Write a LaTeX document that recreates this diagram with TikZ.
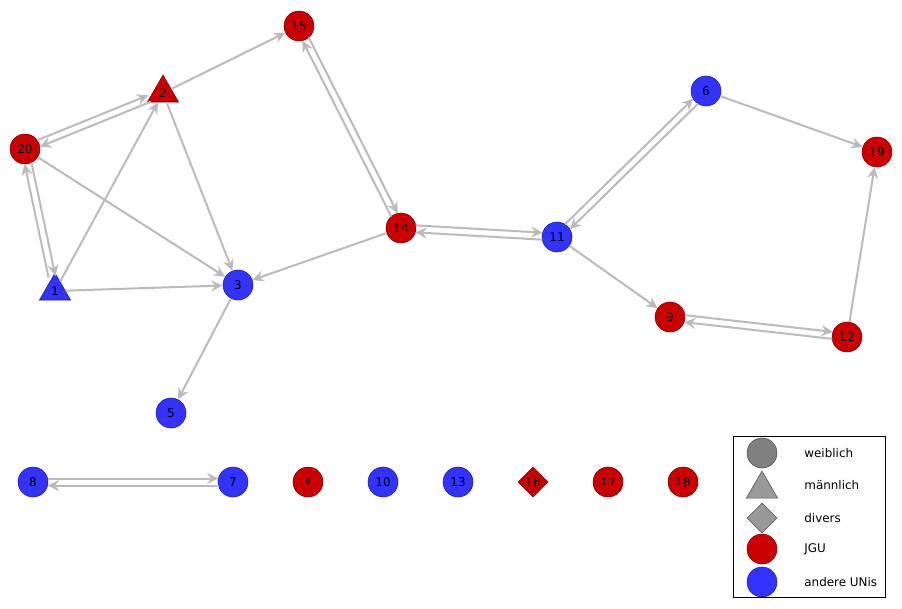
\documentclass[tikz,border=0pt]{standalone}
\usepackage{fontspec}
\setmainfont{DejaVu Sans}
\usetikzlibrary{arrows.meta, positioning, calc, shapes.geometric}
\definecolor{jgured}{HTML}{CC0000}
\definecolor{uniblue}{HTML}{3333FF}
\definecolor{linkgray}{HTML}{BBBBBB}
\begin{document}
\begin{tikzpicture}[x=0.2mm,y=-0.2mm,on grid,node distance=15mm,
      >={Stealth[length=2.3mm,width=2.2mm,inset=0.8mm]},
      every node/.style={font=\fontsize{6.8}{8}\selectfont},
      person/.style={draw,inner sep=0pt,line width=0.3pt},
      fem/.style={person,circle,minimum size=6mm},
      male/.style={person,regular polygon,regular polygon sides=3,minimum size=7.2mm},
      div/.style={person,diamond,minimum width=6mm,minimum height=6mm},
      jgu/.style={fill=jgured,draw=jgured!55!black},
      uni/.style={fill=uniblue,draw=uniblue!55!black},
      link/.style={draw=linkgray,line width=0.4mm},
      keytext/.style={anchor=west,inner sep=0pt},
      twin/.style={to path={($(\tikztostart)!0.7mm!90:(\tikztotarget)$) -- ($(\tikztotarget)!0.7mm!-90:(\tikztostart)$)},
        shorten <=2.9mm,shorten >=2.9mm}]
  \useasboundingbox[fill=white] (0,0) rectangle (902,608);
  % network
  \node[fem,jgu]  (15) at (299,26)  {15};
  \node[male,jgu] (2)  at (163,93)  {2};
  \node[fem,jgu]  (20) at (25,149)  {20};
  \node[male,uni] (1)  at (55,291)  {1};
  \node[fem,uni]  (3)  at (238,285) {3};
  \node[fem,uni]  (5)  at (171,413) {5};
  \node[fem,jgu]  (14) at (401,228) {14};
  \node[fem,uni]  (11) at (557,237) {11};
  \node[fem,uni]  (6)  at (706,91)  {6};
  \node[fem,jgu]  (19) at (877,152) {19};
  \node[fem,jgu]  (9)  at (670,317) {9};
  \node[fem,jgu]  (12) at (847,337) {12};
  % bottom row
  \node[fem,uni]  (8)  at (33,482)  {8};
  \node[fem,uni]  (7)  at (233,482) {7};
  \node[fem,jgu]  (4)  [right=of 7]  {4};
  \node[fem,uni]  (10) [right=of 4]  {10};
  \node[fem,uni]  (13) [right=of 10] {13};
  \node[div,jgu]  (16) [right=of 13] {16};
  \node[fem,jgu]  (17) [right=of 16] {17};
  \node[fem,jgu]  (18) [right=of 17] {18};
  \path[->,link]
    (1) edge (2)
    (1) edge (3)
    (20) edge (3)
    (2) edge (3)
    (2) edge (15)
    (14) edge (3)
    (3) edge (5)
    (11) edge (9)
    (6) edge (19)
    (12) edge (19);
  \path[->,link]
    (20) edge[twin] (2)
    (2) edge[twin] (20)
    (20) edge[twin] (1)
    (1) edge[twin] (20)
    (15) edge[twin] (14)
    (14) edge[twin] (15)
    (14) edge[twin] (11)
    (11) edge[twin] (14)
    (11) edge[twin] (6)
    (6) edge[twin] (11)
    (9) edge[twin] (12)
    (12) edge[twin] (9)
    (8) edge[twin] (7)
    (7) edge[twin] (8);
  % legend
  \node[draw,line width=0.3pt,minimum width=30.4mm,minimum height=32.2mm] (key) at (809,516.5) {};
  \node[fem,fill=gray,draw=gray!60!black]                  (lw) at (762,453) {};
  \node[male,fill=gray!80,draw=gray!60!black]              (lm) at (762,489) {};
  \node[div,fill=gray!80,draw=gray!60!black]               (ld) at (762,518) {};
  \node[fem,jgu]                                           (lj) at (762,549) {};
  \node[fem,uni]                                           (lu) at (762,582) {};
  \node[right=8.4mm of lw,keytext] (tw) {weiblich};
  \node[right=8.4mm of lm,keytext,yshift=0.7mm] (tm) {männlich};
  \node[right=8.4mm of ld,keytext] (td) {divers};
  \node[right=8.4mm of lj,keytext] (tj) {JGU};
  \node[right=8.4mm of lu,keytext] (tu) {andere UNis};
\end{tikzpicture}
\end{document}
